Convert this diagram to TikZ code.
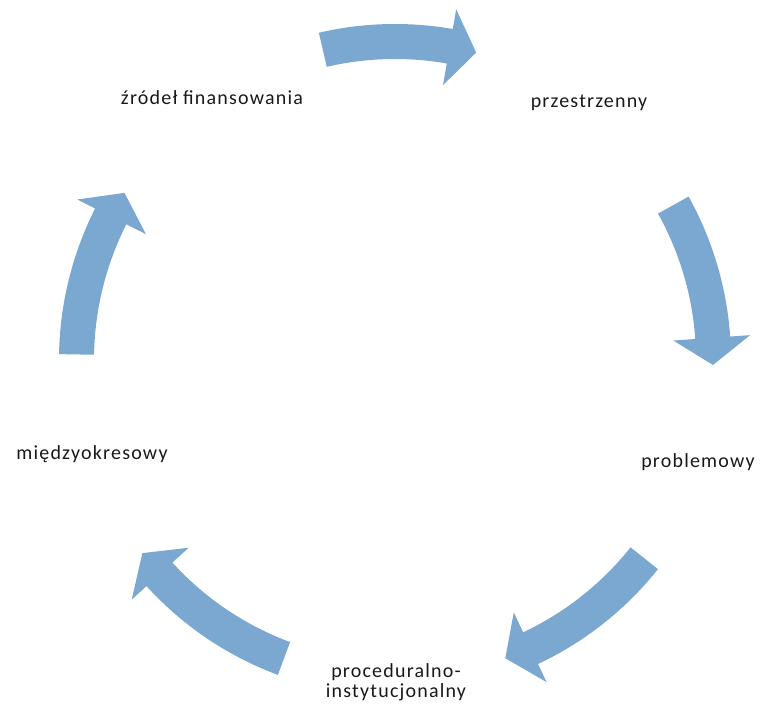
\documentclass[tikz,border=0pt]{standalone}
\usepackage{fontspec}
\setmainfont{Carlito}[LetterSpace=6]
\usetikzlibrary{calc}
\definecolor{arrowblue}{RGB}{122,168,209}
\definecolor{labeltext}{RGB}{25,25,25}
\tikzset{
  arrowshape/.style={fill=arrowblue, draw=none},
  cyclelabel/.style={inner sep=0pt, anchor=base, text=labeltext, font=\fontsize{20}{20}\selectfont},
}
\newcommand{\cyclearrow}[2]{%
  % #1 = tail angle, #2 = tip angle
  \fill[arrowshape] ($(C)+(#1:336pt)$)
    arc[start angle=#1, end angle={#2+4.9}, radius=336pt]
    -- ($(C)+({#2+4.9}:356pt)$)
    -- ($(C)+(#2:318pt)$)
    -- ($(C)+({#2+4.9}:279pt)$)
    -- ($(C)+({#2+4.9}:301pt)$)
    arc[start angle={#2+4.9}, end angle=#1, radius=301pt]
    -- cycle;}
\begin{document}
\begin{tikzpicture}[x=1pt,y=1pt]
\useasboundingbox (0,0) rectangle (764,706);
\coordinate (C) at (395,346);
% arrows
\cyclearrow{103.1}{75.2}
\cyclearrow{29.1}{-0.9}
\cyclearrow{-38.5}{-69.7}
\cyclearrow{-110.4}{-142.6}
\cyclearrow{179.0}{148.3}
% labels
\node[cyclelabel] (zrodel) at (212,601) {źródeł finansowania};
\node[cyclelabel] (przestrzenny) at (589,598) {przestrzenny};
\node[cyclelabel] (problemowy) at (698,238) {problemowy};
\node[cyclelabel, align=center] (proceduralno) at (396,8) {proceduralno-\\instytucjonalny};
\node[cyclelabel] (miedzyokresowy) at (92,246) {międzyokresowy};
\end{tikzpicture}
\end{document}
